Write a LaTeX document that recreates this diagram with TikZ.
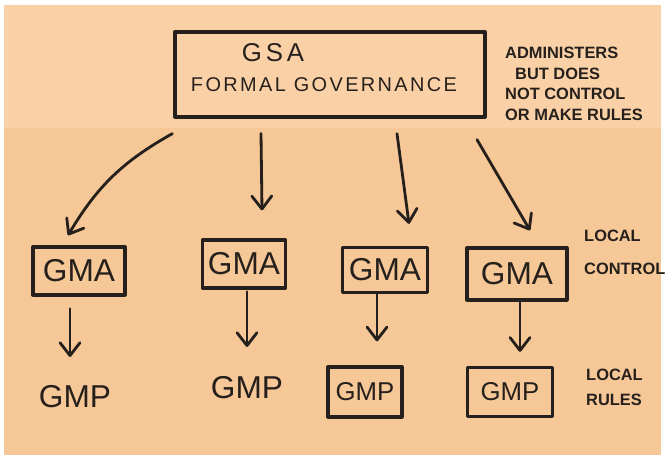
\documentclass[tikz,border=0pt]{standalone}
\usepackage{fontspec}
\setmainfont{Liberation Sans}
\usetikzlibrary{arrows.meta}
\definecolor{ink}{RGB}{38,32,28}
\definecolor{paperhi}{RGB}{250,209,167}
\definecolor{paperlo}{RGB}{246,199,151}
\tikzset{
  inkbox/.style={draw=ink, line width=2.8pt, line join=round, inner sep=0pt},
  lbl/.style={text=ink, inner sep=0pt},
  big/.style={lbl, font=\fontsize{27}{30}\selectfont},
  small/.style={lbl, font=\fontsize{22}{26}\selectfont},
  note/.style={lbl, align=left, anchor=north west, font=\bfseries\fontsize{14}{17.5}\selectfont},
  arr/.style={draw=ink, line width=2.4pt, line cap=round, -{Straight Barb[length=11pt,width=17pt,round]}}
}
\begin{document}
\begin{tikzpicture}[x=0.03cm,y=0.03cm]
      \useasboundingbox (0,0) rectangle (665,460);
      \fill[white] (0,0) rectangle (665,460);
      \fill[paperlo] (4,5) rectangle (661,332);
      \fill[paperhi] (4,332) rectangle (661,455);
      \node[inkbox, minimum width=9.3cm, minimum height=2.55cm] (gsa) at (330,385.5) {};
      \node[lbl, font=\fontsize{22}{26}\selectfont\addfontfeature{LetterSpace=15}] (gsaname) at (273,407) {GSA};
      \node[lbl, font=\fontsize{17}{20}\selectfont\addfontfeature{LetterSpace=12}] (gsagov) at (324,375) {FORMAL GOVERNANCE};
      \node[note] (admin) at (505,413) {ADMINISTERS\\\hspace*{0.3cm}BUT DOES\\NOT CONTROL\\OR MAKE RULES};
      \node[inkbox, big, minimum width=2.76cm, minimum height=1.44cm] (gma1) at (79,189) {GMA};
      \node[inkbox, big, minimum width=2.5cm, minimum height=1.44cm] (gma2) at (244,196) {GMA};
      \node[inkbox, big, minimum width=2.55cm, minimum height=1.35cm] (gma3) at (385,190) {GMA};
      \node[inkbox, big, minimum width=3cm, minimum height=1.56cm] (gma4) at (517,186) {GMA};
      \node[big] (gmp1) at (75,63) {GMP};
      \node[big] (gmp2) at (247,72) {GMP};
      \node[inkbox, small, minimum width=2.22cm, minimum height=1.5cm] (gmp3) at (365,68) {GMP};
      \node[inkbox, small, minimum width=2.55cm, minimum height=1.47cm] (gmp4) at (510,68) {GMP};
      \node[note, font=\bfseries\fontsize{14}{28}\selectfont] (ctrl) at (584,230) {LOCAL\\CONTROL};
      \node[note, font=\bfseries\fontsize{14}{21}\selectfont] (rules) at (586,91) {LOCAL\\RULES};
      \begin{scope}[arr]
        \draw ([shift={(-1,-15)}]gsa.south west) to[bend right=15] ([shift={(-11,10)}]gma1.north);
        \draw ([shift={(-69,-15)}]gsa.south) -- ([shift={(18,28)}]gma2.north);
        \draw ([shift={(67,-15)}]gsa.south) -- ([shift={(24,22)}]gma3.north);
        \draw ([shift={(147,-21)}]gsa.south) -- ([shift={(13,16)}]gma4.north);
        \draw ([shift={(-9,-12)}]gma1.south) -- ([shift={(-5,40)}]gmp1.center);
        \draw ([shift={(3,-2)}]gma2.south) -- ([shift={(0,41)}]gmp2.center);
        \draw ([shift={(-8,0)}]gma3.south) -- ([shift={(12,24)}]gmp3.north);
        \draw ([shift={(3,0)}]gma4.south) -- ([shift={(10,14)}]gmp4.north);
      \end{scope}
    \end{tikzpicture}
\end{document}
